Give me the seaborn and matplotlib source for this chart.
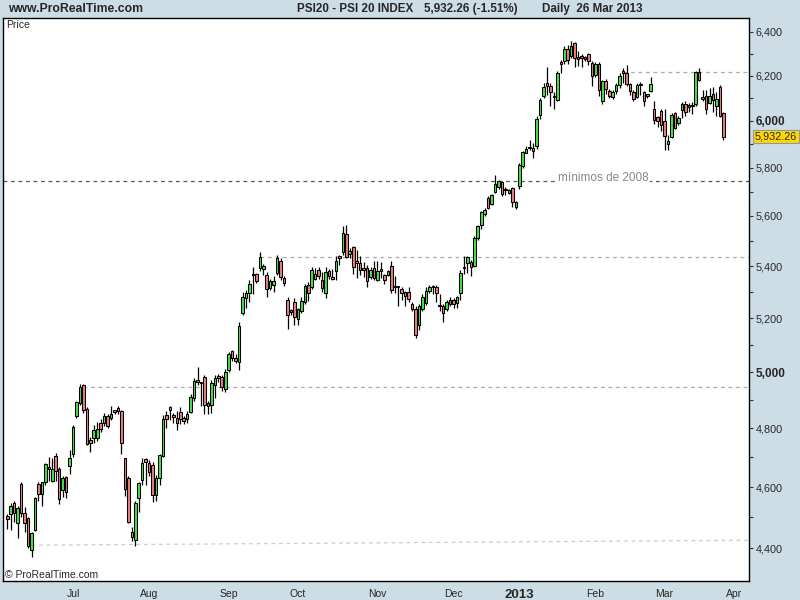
import numpy as np
import pandas as pd
import matplotlib
matplotlib.use('Agg')
import matplotlib.pyplot as plt
import matplotlib.ticker as mticker
import matplotlib.transforms as mtransforms
import seaborn as sns

# PSI20 daily candles, 5 Jun 2012 - 26 Mar 2013
opens = [4505, 4510, 4546, 4481, 4609, 4514, 4497, 4394, 4460, 4610,
         4577, 4618, 4667, 4622, 4704, 4660, 4590, 4633, 4670, 4712,
         4845, 4889, 4952, 4869, 4760, 4766, 4768, 4820, 4818, 4845,
         4836, 4862, 4873, 4862, 4697, 4632, 4452, 4426, 4563, 4623,
         4693, 4680, 4674, 4573, 4632, 4706, 4847, 4875, 4843, 4838,
         4856, 4835, 4833, 4858, 4908, 4969, 4963, 4982, 4891, 4883,
         4954, 4986, 4982, 4939, 5008, 5077, 5050, 5038, 5218, 5277,
         5295, 5364, 5368, 5392, 5388, 5366, 5313, 5327, 5373, 5420,
         5352, 5270, 5222, 5262, 5196, 5227, 5262, 5327, 5317, 5350,
         5385, 5345, 5297, 5382, 5358, 5380, 5435, 5457, 5527, 5447,
         5474, 5418, 5412, 5384, 5394, 5358, 5394, 5345, 5385, 5365,
         5367, 5400, 5320, 5318, 5310, 5285, 5301, 5252, 5233, 5175,
         5233, 5257, 5302, 5320, 5318, 5248, 5245, 5233, 5270, 5268,
         5257, 5297, 5395, 5413, 5415, 5400, 5510, 5563, 5608, 5675,
         5650, 5700, 5720, 5740, 5712, 5696, 5713, 5636, 5722, 5805,
         5862, 5882, 5885, 5891, 6027, 6108, 6168, 6155, 6108, 6090,
         6258, 6265, 6320, 6290, 6348, 6280, 6290, 6280, 6297, 6258,
         6203, 6252, 6085, 6178, 6133, 6105, 6130, 6157, 6223, 6212,
         6163, 6128, 6103, 6160, 6128, 6110, 6133, 6050, 6015, 6045,
         6000, 5900, 5930, 6035, 5992, 6047, 6075, 6060, 6068, 6073,
         6215, 6105, 6108, 6080, 6120, 6065, 6150, 6033]
highs = [4511, 4546, 4553, 4538, 4616, 4533, 4502, 4453, 4568, 4616,
         4618, 4682, 4700, 4697, 4714, 4667, 4636, 4637, 4727, 4812,
         4898, 4956, 4956, 4876, 4771, 4812, 4822, 4832, 4853, 4850,
         4880, 4866, 4880, 4866, 4697, 4637, 4468, 4553, 4618, 4697,
         4697, 4690, 4684, 4640, 4713, 4848, 4860, 4880, 4855, 4860,
         4876, 4843, 4862, 4920, 4978, 5018, 4966, 4988, 4895, 4972,
         4988, 4992, 4988, 5010, 5075, 5080, 5065, 5184, 5300, 5308,
         5346, 5398, 5372, 5456, 5408, 5376, 5350, 5360, 5442, 5430,
         5362, 5280, 5235, 5275, 5240, 5280, 5330, 5337, 5395, 5392,
         5395, 5375, 5395, 5390, 5390, 5440, 5445, 5558, 5563, 5470,
         5480, 5462, 5440, 5415, 5405, 5395, 5420, 5420, 5415, 5370,
         5385, 5420, 5360, 5322, 5318, 5305, 5320, 5260, 5245, 5255,
         5293, 5320, 5325, 5328, 5325, 5290, 5255, 5267, 5280, 5276,
         5285, 5385, 5440, 5440, 5425, 5520, 5565, 5622, 5632, 5683,
         5692, 5767, 5750, 5745, 5717, 5710, 5720, 5660, 5820, 5870,
         5890, 5918, 5905, 6022, 6100, 6168, 6238, 6168, 6125, 6222,
         6273, 6335, 6338, 6360, 6355, 6310, 6300, 6290, 6305, 6268,
         6260, 6260, 6180, 6185, 6140, 6135, 6168, 6210, 6235, 6250,
         6168, 6138, 6168, 6170, 6133, 6120, 6193, 6085, 6020, 6050,
         6050, 5940, 6035, 6040, 6020, 6083, 6085, 6080, 6082, 6222,
         6235, 6135, 6135, 6145, 6150, 6125, 6160, 6040]
lows = [4462, 4460, 4486, 4433, 4502, 4453, 4402, 4373, 4455, 4553,
        4538, 4607, 4620, 4618, 4620, 4543, 4567, 4565, 4644, 4700,
        4836, 4882, 4855, 4742, 4720, 4750, 4755, 4788, 4810, 4803,
        4830, 4851, 4850, 4712, 4572, 4481, 4422, 4406, 4516, 4607,
        4607, 4637, 4551, 4553, 4607, 4700, 4803, 4830, 4820, 4793,
        4816, 4815, 4820, 4855, 4897, 4954, 4879, 4850, 4850, 4855,
        4906, 4963, 4933, 4929, 5000, 5040, 5035, 5007, 5210, 5240,
        5262, 5292, 5334, 5380, 5365, 5280, 5309, 5300, 5366, 5346,
        5322, 5160, 5210, 5173, 5175, 5220, 5252, 5265, 5310, 5345,
        5350, 5300, 5275, 5348, 5345, 5346, 5403, 5445, 5430, 5430,
        5370, 5355, 5365, 5358, 5320, 5350, 5345, 5340, 5355, 5330,
        5360, 5297, 5297, 5245, 5270, 5245, 5262, 5225, 5127, 5157,
        5227, 5250, 5295, 5290, 5262, 5228, 5187, 5225, 5245, 5237,
        5237, 5270, 5370, 5373, 5360, 5395, 5502, 5546, 5600, 5630,
        5645, 5693, 5710, 5683, 5685, 5690, 5638, 5630, 5710, 5800,
        5860, 5875, 5840, 5880, 6010, 6100, 6115, 6067, 6050, 6085,
        6213, 6255, 6255, 6282, 6240, 6245, 6238, 6268, 6250, 6152,
        6196, 6110, 6075, 6117, 6100, 6095, 6120, 6145, 6168, 6155,
        6115, 6085, 6100, 6115, 6065, 6100, 6125, 5985, 5975, 5957,
        5875, 5875, 5925, 5963, 5980, 6012, 6020, 6040, 6032, 6065,
        6175, 6085, 6030, 6075, 6040, 6020, 6017, 5918]
closes = [4494, 4538, 4515, 4531, 4515, 4483, 4409, 4449, 4563, 4577,
          4616, 4677, 4660, 4662, 4654, 4560, 4630, 4583, 4697, 4804,
          4894, 4945, 4866, 4745, 4751, 4794, 4797, 4797, 4845, 4810,
          4850, 4858, 4862, 4750, 4593, 4486, 4436, 4548, 4614, 4682,
          4685, 4650, 4573, 4631, 4707, 4832, 4833, 4866, 4840, 4818,
          4833, 4827, 4851, 4912, 4969, 4966, 4960, 4881, 4880, 4960,
          4978, 4978, 4946, 5000, 5065, 5050, 5041, 5170, 5281, 5297,
          5330, 5370, 5340, 5435, 5400, 5310, 5340, 5341, 5432, 5359,
          5335, 5213, 5230, 5203, 5233, 5266, 5323, 5295, 5385, 5370,
          5360, 5313, 5377, 5360, 5350, 5420, 5432, 5530, 5437, 5460,
          5396, 5414, 5385, 5392, 5343, 5385, 5352, 5380, 5382, 5346,
          5380, 5306, 5318, 5320, 5295, 5300, 5272, 5236, 5136, 5245,
          5282, 5303, 5320, 5317, 5295, 5245, 5220, 5260, 5255, 5255,
          5280, 5372, 5392, 5434, 5397, 5510, 5558, 5615, 5625, 5634,
          5687, 5733, 5742, 5690, 5705, 5705, 5655, 5655, 5812, 5864,
          5880, 5886, 5870, 6010, 6092, 6150, 6155, 6125, 6105, 6213,
          6255, 6320, 6272, 6335, 6280, 6277, 6280, 6277, 6265, 6200,
          6252, 6135, 6174, 6140, 6110, 6128, 6158, 6200, 6213, 6163,
          6130, 6095, 6158, 6158, 6087, 6115, 6162, 6005, 6000, 5980,
          5935, 5914, 6027, 5968, 6012, 6075, 6040, 6068, 6065, 6218,
          6180, 6098, 6050, 6110, 6092, 6095, 6023, 5932.26]

# horizontal support / resistance levels and where they start (bar index)
level_prices = [6218, 5742, 5436, 4948]
level_starts = [178, -2, 73, 22]
level_colors = ['#aaaaaa', '#555555', '#aaaaaa', '#aaaaaa']
# slightly rising support line under the summer lows
trend_idx = [7, 215]
trend_prices = [4410, 4426]

yticks = [4400, 4600, 4800, 5000, 5200, 5400, 5600, 5800, 6000, 6200, 6400]
yminor = [4500, 4700, 4900, 5100, 5300, 5500, 5700, 5900, 6100, 6300]

BG = '#cddde6'
GREEN = '#40e440'
RED = '#f07b7b'

sns.set_style('white')
plt.rcParams['font.family'] = ['Liberation Sans', 'DejaVu Sans']

df = pd.DataFrame({'open': opens, 'high': highs, 'low': lows, 'close': closes})
df['x'] = np.arange(len(df))
df['up'] = df['close'] >= df['open']

# trading calendar (Euronext Lisbon holidays removed) for the month ticks
cal = pd.bdate_range('2012-06-05', '2013-04-05')
holidays = pd.to_datetime(['2012-12-25', '2012-12-26', '2013-01-01', '2013-03-29', '2013-04-01'])
cal = cal[~cal.isin(holidays)]
month_pos, month_lab = [], []
for i in range(1, len(cal)):
    if cal[i].month != cal[i - 1].month:
        month_pos.append(i)
        month_lab.append(str(cal[i].year) if cal[i].month == 1 else cal[i].strftime('%b'))

fig = plt.figure(figsize=(8, 6), dpi=100, facecolor=BG)
ax = fig.add_axes([3 / 800, 19 / 600, 746 / 800, 563 / 600])
ax.set_facecolor('white')

# wicks and bodies
ax.vlines(df['x'], df['low'], df['high'], color='black', lw=0.9, zorder=2)
body_low = df[['open', 'close']].min(axis=1)
body_h = (df['close'] - df['open']).abs().clip(lower=6)
ax.bar(df['x'], body_h, bottom=body_low, width=0.74,
       color=np.where(df['up'], GREEN, RED), edgecolor='black', linewidth=0.75, zorder=3)

xmin, xmax = -1.24, 214.4
for p, s, c in zip(level_prices, level_starts, level_colors):
    ax.hlines(p, max(s, xmin), xmax, colors=c, linestyles=(0, (3, 3)), lw=0.9, zorder=1)
ax.plot(trend_idx, trend_prices, color='#cccccc', ls=(0, (3, 3)), lw=0.9, zorder=1)
ax.text(159.3, 5742, 'mínimos de 2008', color='#888888', fontsize=8.5, ha='left', va='baseline',
        bbox=dict(fc='white', ec='none', pad=0.5), zorder=1.5)

ax.set_yscale('log')
ax.set_ylim(4297, 6465)
ax.set_xlim(xmin, xmax)

ax.yaxis.tick_right()
ax.yaxis.set_major_locator(mticker.FixedLocator(yticks))
ax.yaxis.set_major_formatter(mticker.FuncFormatter(lambda v, _: f'{v:,.0f}'))
ax.yaxis.set_minor_locator(mticker.FixedLocator(yminor))
ax.yaxis.set_minor_formatter(mticker.NullFormatter())
ax.tick_params(axis='y', which='both', direction='out', length=3, width=0.8,
               color='#333333', pad=2, labelsize=7.8)
for lab in ax.get_yticklabels():
    if lab.get_text() in ('5,000', '6,000'):
        lab.set_fontweight('bold')
        lab.set_fontsize(8.5)

ax.set_xticks(month_pos)
ax.set_xticklabels(month_lab)
ax.tick_params(axis='x', direction='out', length=3, width=0.6, color='#777777', pad=3, labelsize=7.5)
for lab in ax.get_xticklabels():
    if lab.get_text() == '2013':
        lab.set_fontweight('bold')
        lab.set_fontsize(9.5)

for sp in ax.spines.values():
    sp.set_color('black')
    sp.set_linewidth(1)

# last price box on the price axis
trans = mtransforms.blended_transform_factory(ax.transAxes, ax.transData)
ax.text(1 + 6 / 746, closes[-1], f'{closes[-1]:,.2f}', transform=trans, ha='left', va='center',
        fontsize=7.8, clip_on=False,
        bbox=dict(boxstyle='square,pad=0.15', fc='#ffd700', ec='#8899aa', lw=0.8))

fig.text(8 / 800, 1 - 9 / 600, 'www.ProRealTime.com', fontsize=8.8, fontweight='bold', va='center')
fig.text(297 / 800, 1 - 9 / 600, 'PSI20 - PSI 20 INDEX', fontsize=8.4, fontweight='bold', va='center')
fig.text(424 / 800, 1 - 9 / 600, '5,932.26 (-1.51%)', fontsize=8.4, fontweight='bold', va='center')
fig.text(542 / 800, 1 - 9 / 600, 'Daily  26 Mar 2013', fontsize=8.4, fontweight='bold', va='center')
fig.text(6 / 800, 1 - 25 / 600, 'Price', fontsize=7.5, va='center')
fig.text(5 / 800, 1 - 575 / 600, '© ProRealTime.com', fontsize=7.5, va='center')

fig.savefig('out.png', dpi=100, facecolor=BG)
